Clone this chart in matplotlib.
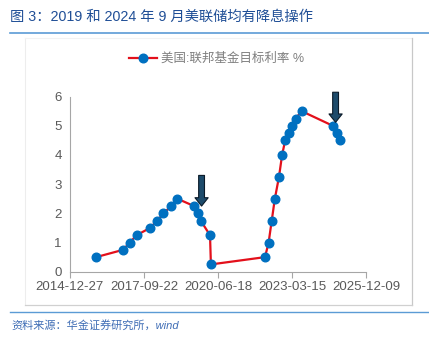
import matplotlib
matplotlib.use("Agg")
import matplotlib.pyplot as plt
import matplotlib.dates as mdates
import numpy as np
import pandas as pd
from matplotlib.lines import Line2D

plt.rcParams['font.family'] = ['Liberation Sans', 'Noto Sans CJK SC', 'DejaVu Sans']

# 美国:联邦基金目标利率(上限) %
dates = ["2015-12-16", "2016-12-14", "2017-03-15", "2017-06-14", "2017-12-13",
         "2018-03-21", "2018-06-13", "2018-09-26", "2018-12-19", "2019-07-31",
         "2019-09-18", "2019-10-30", "2020-03-03", "2020-03-15", "2022-03-16",
         "2022-05-04", "2022-06-15", "2022-07-27", "2022-09-21", "2022-11-02",
         "2022-12-14", "2023-02-01", "2023-03-22", "2023-05-03", "2023-07-26",
         "2024-09-18", "2024-11-07", "2024-12-18"]
rates = [0.5, 0.75, 1.0, 1.25, 1.5, 1.75, 2.0, 2.25, 2.5, 2.25,
         2.0, 1.75, 1.25, 0.25, 0.5, 1.0, 1.75, 2.5, 3.25, 4.0,
         4.5, 4.75, 5.0, 5.25, 5.5, 5.0, 4.75, 4.5]
tick_dates = ["2014-12-27", "2017-09-22", "2020-06-18", "2023-03-15", "2025-12-09"]
arrow_dates = ["2019-11-10", "2024-10-25"]
arrow_tops = [3.3, 6.15]
arrow_tips = [2.25, 5.12]

title = "图 3：2019 和 2024 年 9 月美联储均有降息操作"
legend_label = "美国:联邦基金目标利率 %"
source = "资料来源：华金证券研究所，wind"

x = pd.to_datetime(dates)
ticks = pd.to_datetime(tick_dates)

fig = plt.figure(figsize=(4.29, 3.42), dpi=100)
ax = fig.add_axes([0.163, 0.2055, 0.69, 0.512])

ax.plot(x, rates, color='#E3101B', lw=1.6, marker='o', ms=6.2,
        mfc='#0070C0', mec='#0070C0', zorder=3)

for d, top, tip in zip(arrow_dates, arrow_tops, arrow_tips):
    xd = mdates.date2num(pd.Timestamp(d))
    ax.annotate('', xy=(xd, tip), xytext=(xd, top),
                arrowprops=dict(width=4.2, headwidth=9.5, headlength=6,
                                facecolor='#1D4B6B', edgecolor='#0A1A28', lw=0.8),
                annotation_clip=False, zorder=4)

ax.set_xlim(ticks[0], ticks[-1])
ax.set_ylim(0, 6)
ax.set_xticks(ticks)
ax.set_xticklabels(tick_dates)
ax.set_yticks(range(7))
ax.tick_params(axis='x', length=4, color='#A6A6A6', labelsize=9.5, labelcolor='#595959', pad=3)
ax.tick_params(axis='y', length=0, labelsize=9.5, labelcolor='#595959', pad=6)
for s in ['top', 'right']:
    ax.spines[s].set_visible(False)
for s in ['left', 'bottom']:
    ax.spines[s].set_color('#A6A6A6')
    ax.spines[s].set_linewidth(0.8)

# legend
leg_handle = Line2D([], [], color='#E3101B', lw=1.6, marker='o', ms=6.2,
                    mfc='#0070C0', mec='#0070C0')
fig.legend([leg_handle], [legend_label], loc='center', bbox_to_anchor=(0.505, 0.828),
           frameon=False, fontsize=9, labelcolor='#7F7F7F', handlelength=2.2,
           handletextpad=0.3)

# frame around chart: faint left/top, grey right/bottom
fx0, fx1 = 24.5 / 429, 411.5 / 429
fy0, fy1 = 1 - 305 / 342, 1 - 38 / 342
fig.add_artist(Line2D([fx0, fx0], [fy0, fy1], color='#EDEDED', lw=0.8, transform=fig.transFigure))
fig.add_artist(Line2D([fx0, fx1], [fy1, fy1], color='#F2F2F2', lw=0.8, transform=fig.transFigure))
fig.add_artist(Line2D([fx1, fx1], [fy0, fy1], color='#C8C8C8', lw=0.9, transform=fig.transFigure))
fig.add_artist(Line2D([fx0, fx1], [fy0, fy0], color='#D0D0D0', lw=0.9, transform=fig.transFigure))

fig.text(10 / 429, 1 - 17 / 342, title, fontsize=10.3, color='#1F4E96', va='center')
fig.add_artist(Line2D([10 / 429, 1], [1 - 33 / 342] * 2, color='#5B9BD5', lw=1.2,
                      transform=fig.transFigure))
fig.add_artist(Line2D([10 / 429, 1], [1 - 311.5 / 342] * 2, color='#5B9BD5', lw=1.0,
                      transform=fig.transFigure))
fig.text(11 / 429, 1 - 325 / 342, source, fontsize=8, color='#3F6DB5',
         style='italic', va='center')

fig.savefig('out.png', dpi=100)
